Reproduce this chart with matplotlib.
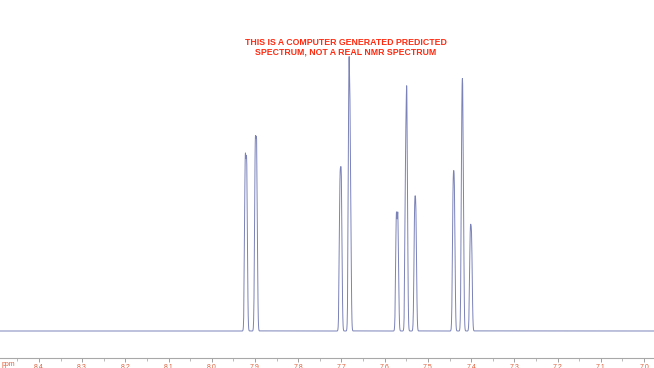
import numpy as np
import matplotlib
matplotlib.use("Agg")
from matplotlib import pyplot as plt
from matplotlib.ticker import MultipleLocator

# peak list: shift (ppm) and apex height (arbitrary units)
peak_ppm = [7.9227, 7.9192, 7.8995, 7.8961,
            7.7035, 7.7003, 7.6827, 7.6795,
            7.5731, 7.5694, 7.5516, 7.5486, 7.5308, 7.5278,
            7.4418, 7.4388, 7.4215, 7.4188, 7.4021, 7.3990]
peak_height = [173, 170, 188, 187,
               152, 155, 268, 204,
               117, 117, 185, 237, 124, 122,
               146, 146, 227, 220, 100, 96]

tick_values = [8.4, 8.3, 8.2, 8.1, 8.0, 7.9, 7.8, 7.7, 7.6, 7.5, 7.4, 7.3, 7.2, 7.1, 7.0]
title_text = "THIS IS A COMPUTER GENERATED PREDICTED\nSPECTRUM, NOT A REAL NMR SPECTRUM"

ppm_left, ppm_right = 8.49, 6.977
line_sigma = 0.0016

plt.rcParams['font.family'] = ['Liberation Sans', 'DejaVu Sans']

fig = plt.figure(figsize=(6.54, 3.68), dpi=100)
ax = fig.add_axes([0, 10 / 368, 1, 358 / 368])

# line shape: gaussians scaled so each apex reaches the height
pos = np.array(peak_ppm)
overlap = np.exp(-0.5 * ((pos[:, None] - pos[None, :]) / line_sigma) ** 2)
amps = np.linalg.solve(overlap, np.array(peak_height, dtype=float))

x = np.linspace(ppm_right, ppm_left, 12000)
y = np.zeros_like(x)
for p, a in zip(pos, amps):
    y += a * np.exp(-0.5 * ((x - p) / line_sigma) ** 2)
ax.plot(x, y, color='#7a82b8', lw=0.7)

ax.set_xlim(ppm_left, ppm_right)
ax.set_ylim(-27, 331)

for s in ['top', 'left', 'right']:
    ax.spines[s].set_visible(False)
ax.spines['bottom'].set_color('#a8a8a8')
ax.spines['bottom'].set_linewidth(0.8)
ax.set_yticks([])

ax.set_xticks(tick_values)
ax.set_xticklabels([f"{v:.1f}" for v in tick_values])
ax.xaxis.set_minor_locator(MultipleLocator(0.05))
ax.tick_params(axis='x', which='major', direction='out', length=3, width=0.7,
               color='#a0a0a0', labelcolor='#e0603c', labelsize=5, pad=1.5)
ax.tick_params(axis='x', which='minor', direction='out', length=2, width=0.6, color='#b0b0b0')

fig.text(2 / 654, 1 - 365 / 368, "ppm", color='#e0603c', fontsize=5, va='center', ha='left')

fig.text(346 / 654, 1 - 47 / 368, title_text, color='#ff2a10', fontsize=6.3,
         fontweight='bold', ha='center', va='center', linespacing=1.1)

fig.savefig("out.png", dpi=100)
